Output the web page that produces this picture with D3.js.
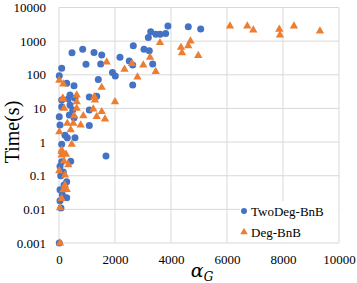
<!DOCTYPE html>
<html><head><meta charset="utf-8">
<script src="https://cdn.jsdelivr.net/npm/d3@7"></script>
<style>body{margin:0;background:#fff}svg{display:block}</style>
</head><body>
<svg id="c" width="357" height="283"></svg>
<script>
const seriesNames = ["TwoDeg-BnB", "Deg-BnB"];
const seriesColors = ["#4472C4", "#ED7D31"];
const xTicks = [0, 2000, 4000, 6000, 8000, 10000];
const yTicks = [0.001, 0.01, 0.1, 1, 10, 100, 1000, 10000];
const yTickLabels = ["0.001", "0.01", "0.1", "1", "10", "100", "1000", "10000"];

// [alpha_G, time(s)]
const twoDegBnB = [
  [4617,2690],[5060,2290],[3890,2820],[3275,1910],[3460,1600],[3610,1600],[3810,1700],[3190,1280],
  [2653,730],[3035,570],[3225,520],[2178,330],[2510,257],[2632,195],[3346,210],[1910,117],[2010,92],
  [2632,50],[1678,0.385],
  [464,450],[846,570],[1250,460],[1525,390],[964,205],[1489,210],
  [96,156],[10,94],[1403,73],[275,56],[536,47],[393,25],[1082,22],[1346,23],
  [96,17.8],[332,19],[571,20],[96,11.3],[393,12.6],[489,9],[1082,9],
  [10,5.7],[368,6.4],[536,5.3],[36,3.2],[1082,3.1],[214,1.6],[571,1.35],[296,1.35],
  [96,0.86],[96,0.26],[418,0.27],[36,0.19],[154,0.13],[62,0.1],[275,0.066],[180,0.053],
  [36,0.038],[120,0.027],[275,0.022],[36,0.018],[70,0.011],[10,0.001]
];
const degBnB = [
  [6107,2820],[6724,2820],[6938,2140],[7867,2250],[7892,1520],[8392,2820],[9320,2000],
  [3607,900],[4357,650],[4393,450],[4617,730],[4695,1010],[4974,370],
  [3250,330],[3010,195],[2607,216],[2340,146],[3453,124],[2803,86],[2000,15.8],[1703,240],
  [10,68],[154,53],[1525,42],[632,25],[132,20],[1261,22],[154,19],[632,15.8],[1286,17.8],
  [180,10],[632,10],[1225,9.5],[1525,8],[536,6],[868,6],[1346,5.7],[1643,4.85],
  [296,3.6],[511,3.6],[775,3.2],[10,2.0],[418,2.3],
  [96,0.58],[454,0.86],[96,0.41],[250,0.43],[96,0.52],[180,0.27],[332,0.21],[10,0.14],
  [214,0.105],[214,0.053],[154,0.038],[275,0.039],[96,0.021],[36,0.011],[36,0.001]
];

const svg = d3.select("#c");
const m = {l:59, r:339, t:7.5, b:243};
const x = d3.scaleLinear().domain([0,10000]).range([m.l, m.r]);
const y = d3.scaleLog().domain([0.001,10000]).range([m.b, m.t]);
const grid = "#d9d9d9";
const serif = "'Liberation Serif','Times New Roman',serif";

// gridlines
svg.append("g").selectAll("line").data(yTicks).join("line")
  .attr("x1", m.l).attr("x2", m.r).attr("y1", d=>y(d)).attr("y2", d=>y(d))
  .attr("stroke", grid).attr("stroke-width", 1);
svg.append("g").selectAll("line").data(xTicks).join("line")
  .attr("y1", m.t).attr("y2", m.b).attr("x1", d=>x(d)).attr("x2", d=>x(d))
  .attr("stroke", grid).attr("stroke-width", 1);

// axes labels via d3 axes (no domain / tick lines)
const yAxis = svg.append("g").attr("transform", `translate(${m.l},0)`)
  .call(d3.axisLeft(y).tickValues(yTicks).tickSize(0).tickPadding(13)
    .tickFormat((d,i)=>yTickLabels[yTicks.indexOf(d)]));
yAxis.select(".domain").remove();
yAxis.selectAll("text").attr("font-family", serif).attr("font-size", 13).attr("fill", "#000");

const xAxis = svg.append("g").attr("transform", `translate(0,${m.b})`)
  .call(d3.axisBottom(x).tickValues(xTicks).tickSize(0).tickPadding(12).tickFormat(d3.format("d")));
xAxis.select(".domain").remove();
xAxis.selectAll("text").attr("font-family", serif).attr("font-size", 13).attr("fill", "#000");

// titles
svg.append("text").attr("transform", "translate(19,132) rotate(-90)")
  .attr("text-anchor", "middle").attr("font-family", serif).attr("font-size", 20)
  .attr("fill", "#000").text("Time(s)");
const xt = svg.append("text").attr("x", 202).attr("y", 277).attr("text-anchor", "middle")
  .attr("font-family", "'DejaVu Serif',serif").attr("font-style", "italic").attr("fill", "#000");
xt.append("tspan").attr("font-size", 19).text("α");
xt.append("tspan").attr("font-size", 12).attr("dy", 4).text("G");

// points
const tri = d3.symbol().type(d3.symbolTriangle).size(30);
svg.append("g").selectAll("circle").data(twoDegBnB).join("circle")
  .attr("cx", d=>x(d[0])).attr("cy", d=>y(d[1])).attr("r", 3.5).attr("fill", seriesColors[0]);
svg.append("g").selectAll("path").data(degBnB).join("path")
  .attr("d", tri).attr("transform", d=>`translate(${x(d[0])},${y(d[1])})`).attr("fill", seriesColors[1]);

// legend
const lg = svg.append("g");
lg.append("rect").attr("x", 240).attr("y", 201).attr("width", 98).attr("height", 41).attr("fill", "#fff");
lg.append("circle").attr("cx", 244).attr("cy", 211).attr("r", 3).attr("fill", seriesColors[0]);
lg.append("path").attr("d", d3.symbol().type(d3.symbolTriangle).size(24)).attr("transform", "translate(244,232)").attr("fill", seriesColors[1]);
lg.selectAll("text").data(seriesNames).join("text")
  .attr("x", 251).attr("y", (d,i)=>215.5 + i*21).attr("font-family", serif).attr("font-size", 13)
  .attr("fill", "#000").text(d=>d);
</script>
</body></html>
